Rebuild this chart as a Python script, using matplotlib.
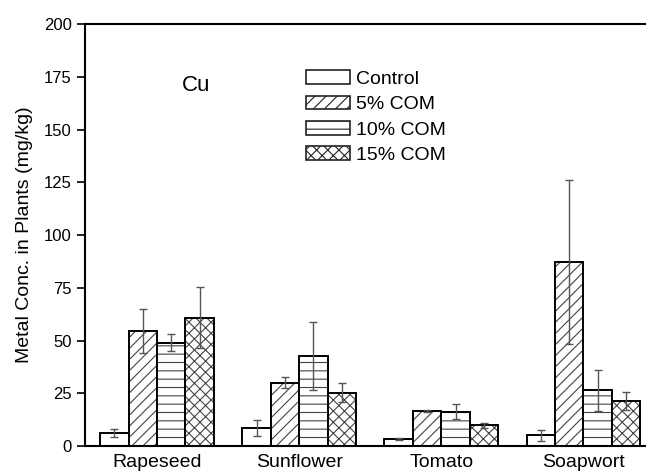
import numpy as np
import matplotlib.pyplot as plt
from matplotlib.patches import Patch

plt.rcParams['font.family'] = ['Liberation Sans', 'DejaVu Sans']
plt.rcParams['hatch.linewidth'] = 0.8

plants = ['Rapeseed', 'Sunflower', 'Tomato', 'Soapwort']
treatments = ['Control', '5% COM', '10% COM', '15% COM']

# Cu concentration (mg/kg), rows = treatments, columns = plants
cu_mean = [
    [6.2, 8.7, 3.3, 5.1],
    [54.5, 30.0, 16.6, 87.2],
    [49.0, 42.6, 16.3, 26.5],
    [60.8, 25.3, 9.8, 21.3],
]
cu_err = [
    [1.8, 3.8, 0.6, 2.6],
    [10.5, 2.5, 0.6, 39.0],
    [4.0, 16.0, 3.5, 9.7],
    [14.5, 4.4, 1.1, 4.1],
]
hatches = ['', '///', '--', 'xxx']

fig = plt.figure(figsize=(6.46, 4.73), dpi=100)
ax = fig.add_axes([0.1316, 0.057, 0.8684, 0.892])

x = np.arange(len(plants))
width = 0.2
for i, name in enumerate(treatments):
    pos = x + (i - 1.5) * width
    # hatch drawn in grey, outline in black on top
    ax.bar(pos, cu_mean[i], width, color='white', edgecolor='#444444',
           hatch=hatches[i], linewidth=0)
    ax.bar(pos, cu_mean[i], width, fill=False, edgecolor='black', linewidth=1.4)
    ax.errorbar(pos, cu_mean[i], yerr=cu_err[i], fmt='none', ecolor='#555555',
                elinewidth=1.0, capsize=3, capthick=1.0)

ax.set_xlim(-0.507, 3.44)
ax.set_ylim(0, 200)
ax.set_yticks(np.arange(0, 201, 25))
ax.set_xticks(x)
ax.set_xticklabels(plants, fontsize=14)
ax.tick_params(axis='x', length=0, pad=6)
ax.tick_params(axis='y', direction='out', length=6, width=1.2, labelsize=12)
for side in ['left', 'bottom', 'top']:
    ax.spines[side].set_linewidth(1.5)
ax.spines['right'].set_visible(False)
ax.set_ylabel('Metal Conc. in Plants (mg/kg)', fontsize=14, labelpad=8)

ax.text(0.275, 171, 'Cu', fontsize=16, ha='center', va='center')

handles = [Patch(facecolor='white', edgecolor='#222222', hatch=h, linewidth=1.2)
           for h in hatches]
ax.legend(handles, treatments, loc='upper left', bbox_to_anchor=(0.459, 0.872),
          bbox_transform=fig.transFigure, frameon=False, fontsize=14,
          handlelength=2.26, handleheight=0.7, handletextpad=0.3,
          labelspacing=0.4, borderpad=0)

fig.savefig('out.png', dpi=100)
